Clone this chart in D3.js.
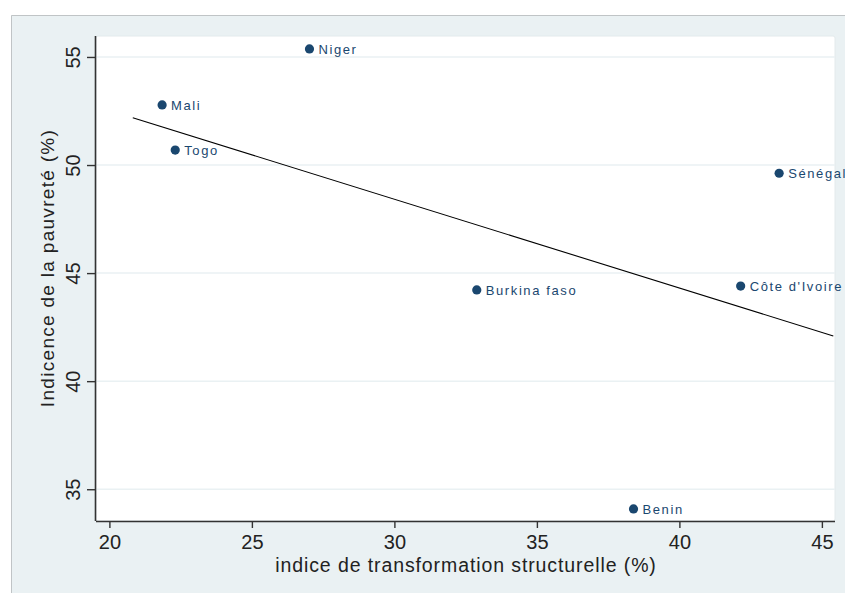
<!DOCTYPE html>
<html>
<head>
<meta charset="utf-8">
<script src="https://cdn.jsdelivr.net/npm/d3@7"></script>
<style>
  html, body { margin: 0; padding: 0; background: #ffffff; }
  svg { display: block; }
  text { font-family: "Liberation Sans", Arial, sans-serif; }
</style>
</head>
<body>
<script>
// Pays et valeurs (indice de transformation structurelle, incidence de la pauvreté)
const countries = ["Niger", "Mali", "Togo", "Sénégal", "Burkina faso", "Côte d'Ivoire", "Benin"];
const transformation = [27.02, 21.85, 22.31, 43.50, 32.89, 42.15, 38.39];
const pauvrete = [55.37, 52.78, 50.69, 49.62, 44.22, 44.40, 34.09];

// Droite d'ajustement linéaire (extrémités)
const fitX = [20.82, 45.40];
const fitY = [52.19, 42.09];

const xTicks = [20, 25, 30, 35, 40, 45];
const yTicks = [35, 40, 45, 50, 55];

const W = 845, H = 593;
const plot = { left: 96, right: 835, top: 36, bottom: 521 };

const svg = d3.select("body").append("svg")
  .attr("width", W).attr("height", H);

// Fond du graphique
svg.append("rect")
  .attr("x", 11).attr("y", 15)
  .attr("width", W - 11).attr("height", H - 15)
  .attr("fill", "#eaf1f3");
svg.append("path")
  .attr("d", `M11.5,${H} V15.5 H${W}`)
  .attr("fill", "none").attr("stroke", "#c0c4c6").attr("stroke-width", 1);

// Zone de tracé
svg.append("rect")
  .attr("x", plot.left).attr("y", plot.top)
  .attr("width", plot.right - plot.left).attr("height", plot.bottom - plot.top)
  .attr("rx", 2)
  .attr("fill", "#ffffff")
  .attr("stroke", "#e3eaec").attr("stroke-width", 1);

const x = d3.scaleLinear().domain([19.53, 45.46]).range([plot.left, plot.right]);
const y = d3.scaleLinear().domain([33.53, 55.97]).range([plot.bottom, plot.top]);

// Lignes de grille horizontales
svg.append("g").selectAll("line").data(yTicks).join("line")
  .attr("x1", plot.left).attr("x2", plot.right)
  .attr("y1", d => y(d)).attr("y2", d => y(d))
  .attr("stroke", "#eaf1f3").attr("stroke-width", 1.5);

svg.append("clipPath").attr("id", "plotclip")
  .append("rect")
  .attr("x", plot.left).attr("y", plot.top)
  .attr("width", plot.right - plot.left).attr("height", plot.bottom - plot.top);

const g = svg.append("g").attr("clip-path", "url(#plotclip)");

// Droite d'ajustement
g.append("line")
  .attr("x1", x(fitX[0])).attr("y1", y(fitY[0]))
  .attr("x2", x(fitX[1])).attr("y2", y(fitY[1]))
  .attr("stroke", "#000000").attr("stroke-width", 1.1);

// Points et étiquettes
const pts = countries.map((c, i) => ({ c, tx: transformation[i], p: pauvrete[i] }));

svg.append("g").selectAll("circle.pt").data(pts).join("circle")
  .attr("class", "pt")
  .attr("cx", d => x(d.tx)).attr("cy", d => y(d.p))
  .attr("r", 4.6)
  .attr("fill", "#1a476f");

svg.append("g").selectAll("text.lbl").data(pts).join("text")
  .attr("class", "lbl")
  .attr("x", d => x(d.tx) + 9).attr("y", d => y(d.p))
  .attr("dy", "0.36em")
  .attr("font-size", 13)
  .attr("letter-spacing", 1.6)
  .attr("fill", "#1a476f")
  .text(d => d.c);

// Axe X
const xAxis = d3.axisBottom(x).tickValues(xTicks).tickSize(7).tickPadding(7)
  .tickFormat(d3.format("d"));
const gx = svg.append("g").attr("transform", `translate(0,${plot.bottom})`).call(xAxis);
gx.select(".domain").attr("d", `M${plot.left},0.5H${plot.right}`)
  .attr("stroke", "#333333").attr("stroke-width", 1.6);
gx.selectAll(".tick line").attr("stroke", "#333333").attr("stroke-width", 1.4);
gx.selectAll(".tick text")
  .attr("font-family", "Liberation Sans, Arial, sans-serif")
  .attr("font-size", 20).attr("fill", "#222222");

// Axe Y
const yAxis = d3.axisLeft(y).tickValues(yTicks).tickSize(9).tickPadding(0)
  .tickFormat(d3.format("d"));
const gy = svg.append("g").attr("transform", `translate(${plot.left},0)`).call(yAxis);
gy.select(".domain").attr("d", `M-0.5,${plot.top}V${plot.bottom}`)
  .attr("stroke", "#333333").attr("stroke-width", 1.6);
gy.selectAll(".tick line").attr("stroke", "#333333").attr("stroke-width", 1.4);
gy.selectAll(".tick text")
  .attr("font-family", "Liberation Sans, Arial, sans-serif")
  .attr("font-size", 20).attr("fill", "#222222")
  .attr("text-anchor", "middle")
  .attr("x", null).attr("dy", null)
  .attr("transform", "translate(-16,0) rotate(-90)");

// Titres des axes
svg.append("text")
  .attr("x", 466).attr("y", 572)
  .attr("text-anchor", "middle")
  .attr("font-size", 19.5).attr("letter-spacing", 0.9)
  .attr("fill", "#222222")
  .text("indice de transformation structurelle (%)");

svg.append("text")
  .attr("transform", "translate(54,268) rotate(-90)")
  .attr("text-anchor", "middle")
  .attr("font-size", 19).attr("letter-spacing", 1.3)
  .attr("fill", "#222222")
  .text("Indicence de la pauvreté (%)");
</script>
</body>
</html>
